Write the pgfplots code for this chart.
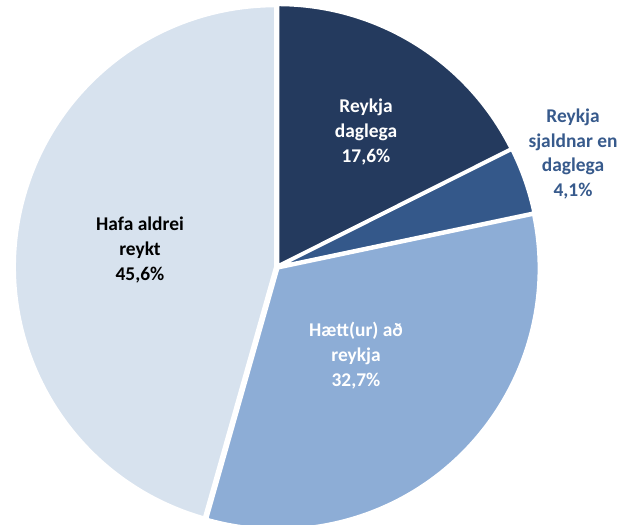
\documentclass[border=0pt]{standalone}
\usepackage{pgfplots}
\pgfplotsset{compat=1.18}
\usepackage{fontspec}
\setmainfont{Carlito}
\definecolor{cA}{RGB}{36,58,94}
\definecolor{cB}{RGB}{52,88,138}
\definecolor{cC}{RGB}{141,173,214}
\definecolor{cD}{RGB}{215,226,238}
\definecolor{lblB}{RGB}{55,90,140}
\begin{document}
\begin{tikzpicture}
\begin{axis}[
  width=629bp, height=525bp, scale only axis,
  xmin=0, xmax=629, ymin=0, ymax=525, y dir=reverse,
  hide axis, clip=false,
]
% share in percent / fill colour, clockwise from 12 o'clock
\foreach \v/\c [remember=\e as \s (initially 90)] in {17.6/cA, 4.1/cB, 32.7/cC, 45.6/cD}{
  \pgfmathsetmacro\e{\s-3.6*\v}
  \pgfmathsetmacro\m{(\s+\e)/2}
  \edef\temp{\noexpand\filldraw[fill=\c, draw=white, line width=3bp, line join=round, shift={(\m:1.5bp)}]
    (axis cs:277,267) -- ++(\s:261bp) arc[start angle=\s, end angle=\e, radius=261bp] -- cycle;}
  \temp
}
\tikzset{lbl/.style={align=center, font=\bfseries\fontsize{19.5}{25}\selectfont}}
\node[lbl, text=white] at (axis cs:366,132) {Reykja\\daglega\\17,6\%};
\node[lbl, text=lblB] at (axis cs:573,154) {Reykja\\sjaldnar en\\daglega\\4,1\%};
\node[lbl, text=white] at (axis cs:356,356) {Hætt(ur) að\\reykja\\32,7\%};
\node[lbl, text=black] at (axis cs:140,250) {Hafa aldrei\\reykt\\45,6\%};
\end{axis}
\pgfresetboundingbox
\path (current axis.south west) rectangle (current axis.north east);
\end{tikzpicture}
\end{document}
